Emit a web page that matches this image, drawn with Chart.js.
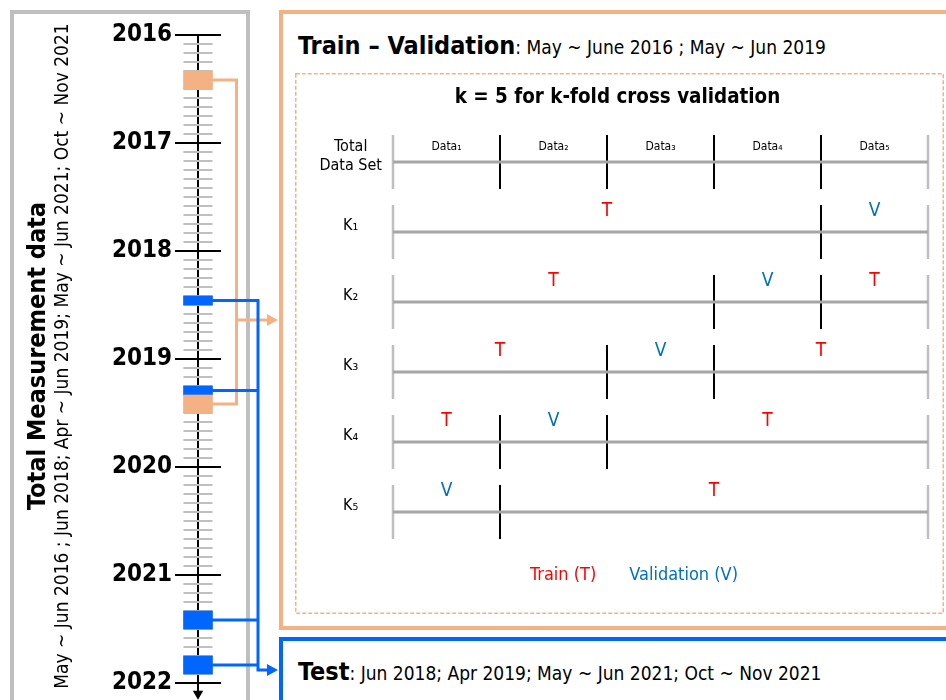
<!DOCTYPE html>
<html>
<head>
<meta charset="utf-8">
<script src="https://cdn.jsdelivr.net/npm/chart.js@4.4.1/dist/chart.umd.min.js"></script>
<style>
  html, body { margin: 0; padding: 0; background: #fff; }
  body { width: 946px; height: 700px; position: relative; overflow: hidden;
         font-family: "DejaVu Sans Condensed", "DejaVu Sans", sans-serif; color: #000; }
  .frame { position: absolute; box-sizing: border-box; }
  #totalFrame { left: 10px; top: 10px; width: 240px; height: 720px; border: 4px solid #BFBFBF; }
  #trainFrame { left: 279px; top: 10px; width: 700px; height: 620px; border: 4px solid #F4B183; }
  #testFrame { left: 279px; top: 637px; width: 700px; height: 100px; border: 4px solid #0066FF; }
  .heading { position: absolute; left: 298px; font-size: 19px; line-height: 26px; white-space: nowrap; }
  .heading b { font-size: 25px; }
  canvas { position: absolute; }
  #timeline { left: 0; top: 0; }
  #folds { left: 295px; top: 73px; }
</style>
</head>
<body>
<div class="frame" id="totalFrame"></div>
<div class="frame" id="trainFrame"></div>
<div class="frame" id="testFrame"></div>
<div class="heading" style="top:33px"><b>Train – Validation</b>: May ~ June 2016 ; May ~ Jun 2019</div>
<div class="heading" style="top:659px"><b>Test</b>: Jun 2018; Apr 2019; May ~ Jun 2021; Oct ~ Nov 2021</div>
<canvas id="timeline" width="282" height="700"></canvas>
<canvas id="folds" width="649" height="541"></canvas>
<script>
// Dados do diagrama
const years = [2016, 2017, 2018, 2019, 2020, 2021, 2022];
const trainValPeriods = [["2016-05", "2016-06"], ["2019-05", "2019-06"]];
const testPeriods = [["2018-06", "2018-06"], ["2019-04", "2019-04"], ["2021-05", "2021-06"], ["2021-10", "2021-11"]];
const foldLabels = ["Data₁", "Data₂", "Data₃", "Data₄", "Data₅"];
const rowLabels = [["Total", "Data Set"], "K₁", "K₂", "K₃", "K₄", "K₅"];
const validationFolds = [5, 4, 3, 2, 1]; // fold usado como validação em K1..K5

const FONT = '"DejaVu Sans Condensed", "DejaVu Sans", sans-serif';
const ORANGE = "#F4B183";
const BLUE = "#0066FF";
const RED = "#FF0000";
const VBLUE = "#0070C0";

function monthStart(s) {
  const [y, m] = s.split("-").map(Number);
  return y + (m - 1) / 12;
}
function monthEnd(s) {
  const [y, m] = s.split("-").map(Number);
  return y + m / 12;
}

// sem o espaço extra que o Chart.js reserva para os rótulos das pontas
const noEdgePadding = (width) => (s) => {
  s.width = width;
  s.paddingTop = 0;
  s.paddingBottom = 0;
};

// marcas mensais entre os anos
const monthMarks = [];
for (let y = years[0]; y < years[years.length - 1]; y++) {
  for (let m = 1; m < 12; m++) monthMarks.push({ x: "t", y: y + m / 12 });
}

const periodBars = (periods, color) =>
  periods.map(([a, b]) => ({
    type: "bar",
    data: [{ x: "t", y: [monthStart(a), monthEnd(b)] }],
    backgroundColor: color,
    barThickness: 29,
    grouped: false,
    clip: false,
    order: 0,
  }));

// ligações dos períodos até as caixas da direita
const connectors = {
  id: "connectors",
  afterDatasetsDraw(chart) {
    const { ctx } = chart;
    const yS = chart.scales.y;
    const barRight = chart.scales.x.getPixelForValue(0) + 14.5;
    const branch = (periods, color, trunkX, arrowY) => {
      const ys = periods.map(([a, b]) => yS.getPixelForValue((monthStart(a) + monthEnd(b)) / 2));
      const top = Math.min(...ys, arrowY);
      const bottom = Math.max(...ys, arrowY);
      ctx.save();
      ctx.strokeStyle = color;
      ctx.fillStyle = color;
      ctx.lineWidth = 3;
      ctx.lineCap = "square";
      ctx.beginPath();
      ys.forEach((y) => {
        ctx.moveTo(barRight, y);
        ctx.lineTo(trunkX, y);
      });
      ctx.moveTo(trunkX, top);
      ctx.lineTo(trunkX, bottom);
      ctx.moveTo(trunkX, arrowY);
      ctx.lineTo(268, arrowY);
      ctx.stroke();
      ctx.beginPath();
      ctx.moveTo(267, arrowY - 6);
      ctx.lineTo(278, arrowY);
      ctx.lineTo(267, arrowY + 6);
      ctx.closePath();
      ctx.fill();
      ctx.restore();
    };
    branch(trainValPeriods, ORANGE, 236.5, 320);
    branch(testPeriods, BLUE, 258, 670);
  },
};

new Chart(document.getElementById("timeline"), {
  type: "bar",
  data: {
    labels: ["t"],
    datasets: [
      {
        type: "line",
        data: [{ x: "t", y: years[0] }, { x: "t", y: 2022.1 }],
        borderColor: "#000",
        borderWidth: 2,
        pointRadius: [0, 4],
        pointStyle: "triangle",
        pointRotation: 180,
        pointBackgroundColor: "#000",
        pointBorderColor: "#000",
        clip: false,
        order: 2,
      },
      {
        type: "line",
        data: monthMarks,
        showLine: false,
        pointStyle: "line",
        pointRadius: 14.5,
        pointBorderColor: "#BFBFBF",
        pointBorderWidth: 2,
        clip: false,
        order: 1,
      },
      ...periodBars(trainValPeriods, ORANGE),
      ...periodBars(testPeriods, BLUE),
    ],
  },
  options: {
    responsive: false,
    animation: false,
    events: [],
    layout: { autoPadding: false, padding: { left: 10, right: 61, top: 12, bottom: 0 } },
    plugins: {
      legend: { display: false },
      tooltip: { enabled: false },
      title: {
        display: true,
        position: "left",
        fullSize: false,
        text: "Total Measurement data",
        color: "#000",
        font: { family: FONT, size: 25, weight: "bold", lineHeight: 1 },
        padding: { top: 15.5, bottom: 0 },
      },
      subtitle: {
        display: true,
        position: "left",
        fullSize: false,
        text: "May ~ Jun 2016 ; Jun 2018; Apr ~ Jun 2019; May ~ Jun 2021; Oct ~ Nov 2021",
        color: "#000",
        font: { family: FONT, size: 19, lineHeight: 1 },
        padding: { top: 3, bottom: 0 },
      },
    },
    scales: {
      x: { display: false, offset: true },
      y: {
        type: "linear",
        reverse: true,
        min: years[0] - 23 / 108,
        max: years[years.length - 1] + 17 / 108,
        afterFit: noEdgePadding(102.5),
        afterBuildTicks: (s) => { s.ticks = years.map((v) => ({ value: v })); },
        ticks: {
          padding: 3,
          color: "#000",
          font: { family: FONT, size: 24, weight: "bold" },
          callback: (v) => String(v),
        },
        grid: { color: "#000", lineWidth: 2, drawTicks: false },
        border: { display: false },
      },
    },
  },
  plugins: [connectors],
});

// ---- k-fold ----
const nFolds = foldLabels.length;
const rowLines = rowLabels.map((_, r) => ({
  data: [{ x: 0, y: r }, { x: nFolds, y: r }],
  borderColor: "#A6A6A6",
  borderWidth: 3,
  pointRadius: 0,
  clip: false,
}));
const caps = [];
const dividers = [];
const trainMarks = [];
const validMarks = [];
const dataMarks = [];
foldLabels.forEach((_, f) => {
  dataMarks.push({ x: f + 0.5, y: 0 });
  if (f > 0) dividers.push({ x: f, y: 0 });
});
rowLabels.forEach((_, r) => {
  caps.push({ x: 0, y: r }, { x: nFolds, y: r });
});
validationFolds.forEach((v, i) => {
  const r = i + 1;
  if (v - 1 > 0) {
    dividers.push({ x: v - 1, y: r });
    trainMarks.push({ x: (v - 1) / 2, y: r });
  }
  validMarks.push({ x: v - 0.5, y: r });
  if (v < nFolds) {
    dividers.push({ x: v, y: r });
    trainMarks.push({ x: (v + nFolds) / 2, y: r });
  }
});

const vTick = (data, color, width) => ({
  data,
  showLine: false,
  pointStyle: "line",
  pointRotation: 90,
  pointRadius: 27,
  pointBorderColor: color,
  pointBorderWidth: width,
  clip: false,
});

const markText = {
  id: "markText",
  beforeDraw(chart) {
    // moldura tracejada
    const { ctx, width, height } = chart;
    ctx.save();
    ctx.strokeStyle = ORANGE;
    ctx.lineWidth = 1.5;
    ctx.setLineDash([4, 2]);
    ctx.strokeRect(0.75, 0.75, width - 1.5, height - 1.5);
    ctx.restore();
  },
  afterDatasetsDraw(chart) {
    const { ctx } = chart;
    chart.data.datasets.forEach((ds, i) => {
      if (!ds.mark) return;
      const meta = chart.getDatasetMeta(i);
      ctx.save();
      ctx.font = ds.mark.font;
      ctx.fillStyle = ds.mark.color;
      ctx.textAlign = "center";
      ctx.textBaseline = "middle";
      meta.data.forEach((pt, j) => {
        const txt = Array.isArray(ds.mark.text) ? ds.mark.text[j] : ds.mark.text;
        ctx.fillText(txt, pt.x, pt.y - ds.mark.lift);
      });
      ctx.restore();
    });
  },
};

new Chart(document.getElementById("folds"), {
  type: "line",
  data: {
    datasets: [
      ...rowLines,
      vTick(caps, "#BFBFBF", 2.5),
      vTick(dividers, "#000", 2),
      {
        label: "Train (T)",
        data: trainMarks,
        showLine: false,
        pointRadius: 0,
        mark: { text: "T", color: RED, font: `19px ${FONT}`, lift: 21 },
      },
      {
        label: "Validation (V)",
        data: validMarks,
        showLine: false,
        pointRadius: 0,
        mark: { text: "V", color: VBLUE, font: `19px ${FONT}`, lift: 21 },
      },
      {
        data: dataMarks,
        showLine: false,
        pointRadius: 0,
        mark: { text: foldLabels, color: "#000", font: `12px ${FONT}`, lift: 15 },
      },
    ],
  },
  options: {
    responsive: false,
    animation: false,
    events: [],
    layout: { autoPadding: false, padding: { left: 12, right: 16, top: 0, bottom: 1 } },
    plugins: {
      tooltip: { enabled: false },
      title: {
        display: true,
        text: "k = 5 for k-fold cross validation",
        color: "#000",
        font: { family: FONT, size: 20.4, weight: "bold", lineHeight: 1.2 },
        padding: { top: 12.75, bottom: 16.75 },
      },
      legend: {
        position: "bottom",
        labels: {
          font: { family: FONT, size: 18 },
          boxWidth: 24,
          boxHeight: 56,
          padding: 0,
          generateLabels: (chart) =>
            chart.data.datasets
              .map((ds, i) => ({ ds, i }))
              .filter(({ ds }) => ds.label)
              .map(({ ds, i }) => ({
                text: ds.label,
                fontColor: ds.mark.color,
                fillStyle: "rgba(0,0,0,0)",
                strokeStyle: "rgba(0,0,0,0)",
                lineWidth: 0,
                hidden: false,
                datasetIndex: i,
              })),
        },
      },
    },
    scales: {
      x: { type: "linear", min: 0, max: nFolds, display: false },
      y: {
        type: "linear",
        reverse: true,
        min: -0.5,
        max: rowLabels.length - 0.5,
        afterFit: noEdgePadding(86),
        afterBuildTicks: (s) => { s.ticks = rowLabels.map((_, i) => ({ value: i })); },
        grid: { display: false },
        border: { display: false },
        ticks: {
          crossAlign: "center",
          labelOffset: -6,
          color: "#000",
          font: { family: FONT, size: 16 },
          callback: (v) => rowLabels[v],
        },
      },
    },
  },
  plugins: [markText],
});
</script>
</body>
</html>
